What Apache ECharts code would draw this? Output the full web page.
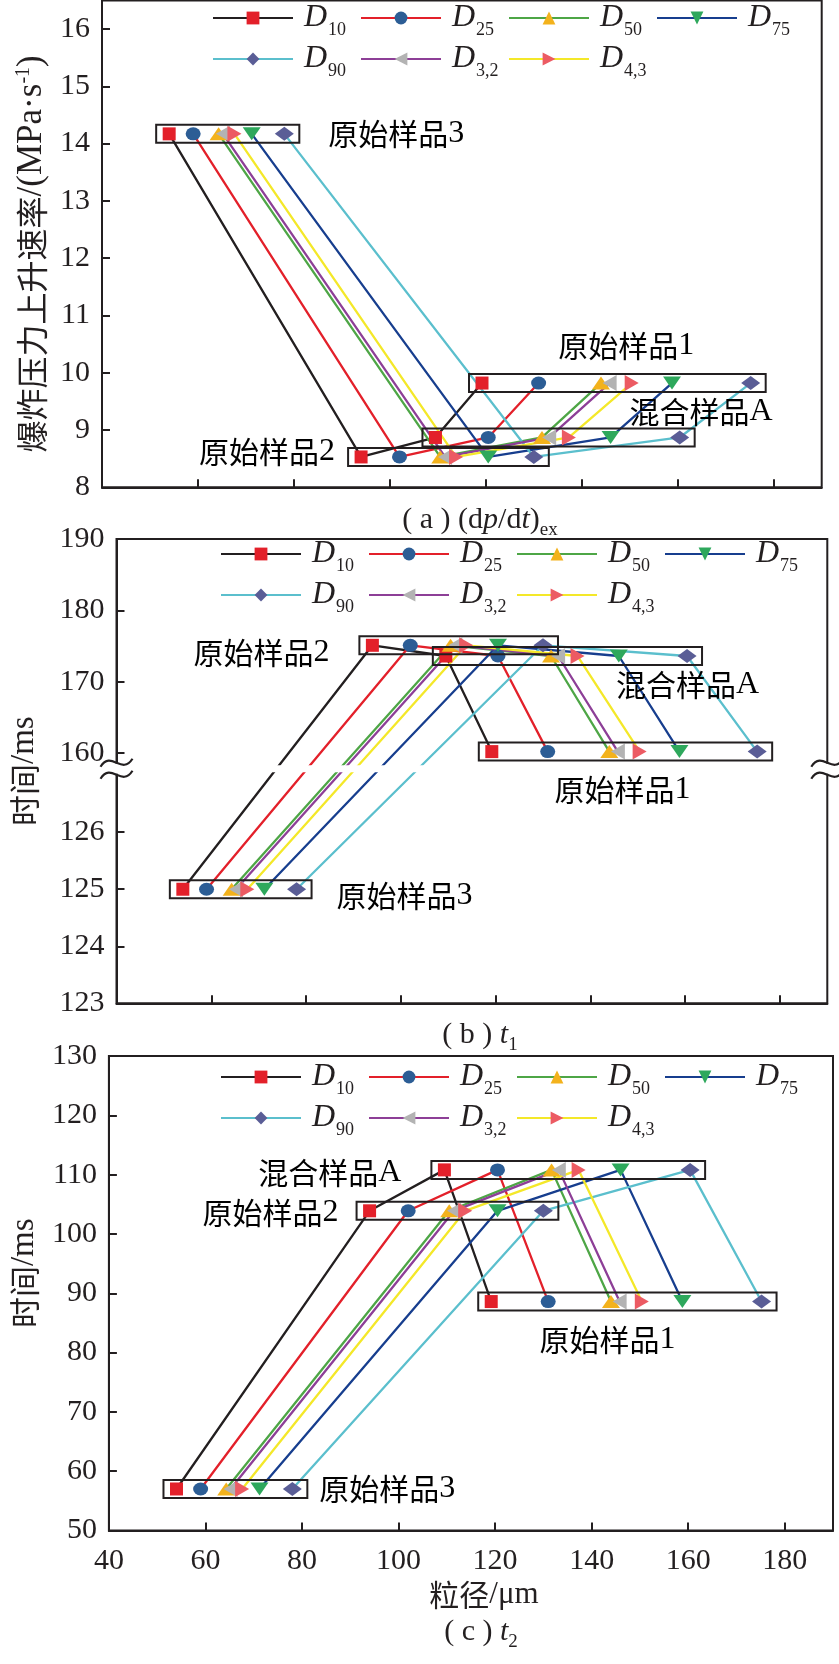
<!DOCTYPE html>
<html><head><meta charset="utf-8">
<script src="https://cdn.jsdelivr.net/npm/echarts@6/dist/echarts.min.js"></script>
<style>html,body{margin:0;padding:0;background:#fff}#c{width:839px;height:1664px}</style>
</head><body><div id="c"></div>
<script>
// ---------------- data ----------------
const SERIES_NAMES = ['D10','D25','D50','D75','D90','D3,2','D4,3'];
const SAMPLES = ['原始样品3','原始样品2','混合样品A','原始样品1'];
// particle size (µm) for each metric, samples in the order above
const X_D10 = [54, 94, 109.5, 119.2];
const X_D25 = [59, 102, 120.5, 131];
const X_D50 = [64.3, 110.5, 131.7, 144];
const X_D75 = [71.2, 120.5, 146, 158.8];
const X_D90 = [78, 130, 160.4, 175.2];
const X_D32 = [65.2, 111.5, 133.2, 145.8];
const X_D43 = [67.6, 113.8, 137.3, 150.4];
// panel values per sample
const Y_A = [14.17, 8.53, 8.87, 9.82];     // (dp/dt)ex, MPa/s
const Y_B = [125.0, 175.1, 173.6, 160.2];  // t1, ms
const Y_C = [57.0, 103.9, 110.8, 88.6];    // t2, ms
// tick labels
const X_TICKS = [40, 60, 80, 100, 120, 140, 160, 180];
const A_TICKS = [8, 9, 10, 11, 12, 13, 14, 15, 16];
const B_TICKS_LOW = [123, 124, 125, 126];
const B_TICKS_HIGH = [160, 170, 180, 190];
const C_TICKS = [50, 60, 70, 80, 90, 100, 110, 120, 130];

// ---------------- styles ----------------
const SERIF = 'Liberation Serif';
const CJK = 'Noto Sans CJK SC';
const INK = '#231f20';
const STYLE = [
  {line:'#231f20', fill:'#e3202a', symbol:'rect',     size:[13,13], rot:0},
  {line:'#e3202a', fill:'#2c5d95', symbol:'circle',   size:[15,13], rot:0},
  {line:'#4ea646', fill:'#f3b21c', symbol:'triangle', size:[18,13], rot:0},
  {line:'#173e8e', fill:'#2ea85c', symbol:'triangle', size:[18,13], rot:180},
  {line:'#5bbfcd', fill:'#5a5d96', symbol:'diamond',  size:[19,14], rot:0},
  {line:'#8d3f97', fill:'#b3b3b3', symbol:'triangle', size:[16,14], rot:90},
  {line:'#f4e829', fill:'#ec5b63', symbol:'triangle', size:[16,14], rot:-90}
];
const GRIDS = [
  {left:102, top:0.4, width:719.7, height:486.9},
  {left:105, top:539, width:722.3, height:464.3},
  {left:103, top:1056, width:730, height:474.5}
];
const LEG_POS = [{left:212, top:2}, {left:220, top:538}, {left:220, top:1061}];
const TITLE_POS = [{left:480, top:500}, {left:480, top:1015}, {left:481, top:1612}];
// annotation placement relative to each sample's marker row
const LABEL_POS = [
  [{ref:'max',dx:44,dy:0,align:'left'}, {ref:'min',dx:-26,dy:-5,align:'right'}, {ref:'max',dx:93,dy:-26,align:'right'}, {ref:'mid',dx:10,dy:-37,align:'center'}],
  [{ref:'max',dx:40,dy:6,align:'left'}, {ref:'min',dx:-43,dy:7,align:'right'}, {ref:'max',dx:72,dy:29,align:'right'}, {ref:'mid',dx:-2,dy:38,align:'center'}],
  [{ref:'max',dx:27,dy:0,align:'left'}, {ref:'min',dx:-31,dy:2,align:'right'}, {ref:'min',dx:-43,dy:3,align:'right'}, {ref:'mid',dx:-19,dy:38,align:'center'}]
];

// broken axis of panel (b): lower part 123-127 is drawn with a larger scale
const B_BREAK = {anchor:125, anchorV:140.91, unit:7.994, split:158, band:[157.3, 158.3]};
function bAxis(v){ return v >= B_BREAK.split ? v : B_BREAK.anchorV + (v - B_BREAK.anchor) * B_BREAK.unit; }
function bLabel(v){ return v >= B_BREAK.split ? Math.round(v) : Math.round(B_BREAK.anchor + (v - B_BREAK.anchorV) / B_BREAK.unit); }

const XS = [X_D10, X_D25, X_D50, X_D75, X_D90, X_D32, X_D43];
const PANEL_Y = [Y_A, Y_B.map(bAxis), Y_C];

const RICH_LABEL = {
  c:{fontFamily:CJK, fontSize:30, color:INK, lineHeight:38},
  n:{fontFamily:SERIF, fontSize:32, color:INK, lineHeight:38}
};
function sampleRich(s){ return '{c|' + s.slice(0, -1) + '}{n|' + s.slice(-1) + '}'; }

function boxRender(panel){
  return function(params, api){
    const i = api.value(3);
    const p0 = api.coord([api.value(0), api.value(2)]);
    const p1 = api.coord([api.value(1), api.value(2)]);
    const lp = LABEL_POS[panel][i];
    const rx = lp.ref === 'min' ? p0[0] : (lp.ref === 'max' ? p1[0] : (p0[0] + p1[0]) / 2);
    return {type:'group', children:[
      {type:'rect', shape:{x:p0[0]-13, y:p0[1]-9, width:p1[0]-p0[0]+28, height:18},
       style:{fill:'none', stroke:INK, lineWidth:2}},
      {type:'text', x:rx+lp.dx, y:p0[1]+lp.dy,
       style:{text:sampleRich(SAMPLES[i]), align:lp.align, verticalAlign:'middle', rich:RICH_LABEL}}
    ]};
  };
}

function breakRender(params, api){
  const cs = params.coordSys;
  const yT = api.coord([40, B_BREAK.band[1]])[1];
  const yB = api.coord([40, B_BREAK.band[0]])[1];
  const yc = (yT + yB) / 2;
  const waves = x => [-6, 6].map(o => ({type:'bezierCurve',
    shape:{x1:x-16, y1:yc+o+4, x2:x+16, y2:yc+o-4, cpx1:x-5, cpy1:yc+o-13, cpx2:x+5, cpy2:yc+o+13},
    style:{stroke:INK, lineWidth:2.2, fill:'none'}}));
  return {type:'group', children:[
    {type:'rect', shape:{x:cs.x+1.5, y:yT, width:cs.width-3, height:yB-yT}, style:{fill:'#fff'}},
    {type:'rect', shape:{x:cs.x-3, y:yc-5, width:6, height:10}, style:{fill:'#fff'}},
    {type:'rect', shape:{x:cs.x+cs.width-3, y:yc-5, width:6, height:10}, style:{fill:'#fff'}}
  ].concat(waves(cs.x), waves(cs.x + cs.width))};
}

// ---------------- options ----------------
const series = [];
PANEL_Y.forEach((ys, p) => {
  XS.forEach((xs, k) => {
    const st = STYLE[k];
    series.push({
      type:'line', name:SERIES_NAMES[k], xAxisIndex:p, yAxisIndex:p,
      data: xs.map((x, i) => [x, ys[i]]),
      symbol:st.symbol, symbolSize:st.size, symbolRotate:st.rot, showAllSymbol:true,
      lineStyle:{color:st.line, width:2.3}, itemStyle:{color:st.fill},
      emphasis:{disabled:true}, z:2
    });
  });
  series.push({
    type:'custom', name:'box' + p, xAxisIndex:p, yAxisIndex:p, z:3, silent:true, clip:false,
    data: SAMPLES.map((s, i) => [Math.min(...XS.map(a => a[i])), Math.max(...XS.map(a => a[i])), ys[i], i]),
    renderItem: boxRender(p)
  });
});
series.push({type:'custom', name:'break', xAxisIndex:1, yAxisIndex:1, z:10, silent:true, clip:false,
  data:[[B_BREAK.band[0]]], renderItem:breakRender});

const LEG_RICH = {
  g:{width:6},
  d:{fontFamily:SERIF, fontStyle:'italic', fontSize:32, lineHeight:42, width:24, color:INK},
  s:{fontFamily:SERIF, fontSize:18, lineHeight:26, width:28, verticalAlign:'bottom', color:INK}
};
const TITLE_RICH = {
  t:{fontFamily:SERIF, fontSize:30, lineHeight:40, fontWeight:'normal', color:INK},
  i:{fontFamily:SERIF, fontSize:30, lineHeight:40, fontWeight:'normal', fontStyle:'italic', color:INK},
  s:{fontFamily:SERIF, fontSize:19, lineHeight:28, fontWeight:'normal', verticalAlign:'bottom', color:INK}
};
const TITLE_TEXT = [
  '{t|( a ) (d}{i|p}{t|/d}{i|t}{t|)}{s|ex}',
  '{t|( b ) }{i|t}{s|1}',
  '{t|( c ) }{i|t}{s|2}'
];

const axisLineCommon = {show:true, lineStyle:{color:INK, width:2}};
const tickCommon = {show:true, inside:true, length:8, lineStyle:{color:INK, width:2}};
const labelFont = {fontFamily:SERIF, fontSize:30, color:INK};

const xAxis = GRIDS.map((g, p) => ({
  type:'value', gridIndex:p, min:40, max:190,
  axisLine:axisLineCommon,
  axisTick:Object.assign({customValues:X_TICKS}, tickCommon),
  axisLabel:Object.assign({show:p === 2, customValues:X_TICKS, margin:16}, labelFont),
  splitLine:{show:false},
  name: p === 2 ? '{c|粒径}{t|/μm}' : '',
  nameLocation:'middle', nameGap:46,
  nameTextStyle:{padding:[0,0,0,26], rich:{
    c:{fontFamily:CJK, fontSize:30, color:INK, lineHeight:36},
    t:{fontFamily:SERIF, fontSize:31, color:INK, lineHeight:36}}}
}));

const yNameRich = {
  c:{fontFamily:CJK, fontSize:32, color:INK, lineHeight:36},
  t:{fontFamily:SERIF, fontSize:35, color:INK, lineHeight:36},
  sup:{fontFamily:SERIF, fontSize:20, color:INK, lineHeight:24, verticalAlign:'top'}
};
const yNameRichT = {
  c:{fontFamily:CJK, fontSize:31, color:INK, lineHeight:36},
  t:{fontFamily:SERIF, fontSize:33, color:INK, lineHeight:36}
};
const B_CUSTOM = B_TICKS_LOW.map(bAxis).concat(B_TICKS_HIGH);
const yAxis = [
  {type:'value', gridIndex:0, min:8, max:16.5,
   axisLine:axisLineCommon, axisTick:Object.assign({customValues:A_TICKS}, tickCommon),
   axisLabel:Object.assign({customValues:A_TICKS, margin:12}, labelFont), splitLine:{show:false},
   name:'{c|爆炸压力上升速率}{t|/(MPa·s}{sup|-1}{t|)}', nameLocation:'middle', nameGap:52,
   nameTextStyle:{padding:[0,20,0,0], rich:yNameRich}},
  {type:'value', gridIndex:1, min:bAxis(123), max:190,
   axisLine:axisLineCommon, axisTick:Object.assign({customValues:B_CUSTOM}, tickCommon),
   axisLabel:Object.assign({customValues:B_CUSTOM, margin:12, formatter:v => String(bLabel(v))}, labelFont),
   splitLine:{show:false},
   name:'{c|时间}{t|/ms}', nameLocation:'middle', nameGap:74,
   nameTextStyle:{rich:yNameRichT}},
  {type:'value', gridIndex:2, min:50, max:130,
   axisLine:axisLineCommon, axisTick:Object.assign({customValues:C_TICKS}, tickCommon),
   axisLabel:Object.assign({customValues:C_TICKS, margin:12}, labelFont), splitLine:{show:false},
   name:'{c|时间}{t|/ms}', nameLocation:'middle', nameGap:61,
   nameTextStyle:{padding:[0,0,0,40], rich:yNameRichT}}
];

const option = {
  animation:false,
  backgroundColor:'#fff',
  textStyle:{fontFamily:SERIF},
  grid: GRIDS.map(g => Object.assign({show:true, borderColor:INK, borderWidth:2, containLabel:false}, g)),
  xAxis, yAxis,
  legend: LEG_POS.map(lp => ({
    data:SERIES_NAMES, left:lp.left, top:lp.top, width:610, padding:0,
    itemWidth:80, itemHeight:16, itemGap:4, selectedMode:false, orient:'horizontal',
    formatter: n => '{g| }{d|D}{s|' + n.slice(1) + '}',
    textStyle:{rich:LEG_RICH}
  })),
  title: TITLE_TEXT.map((t, p) => ({
    text:t, left:TITLE_POS[p].left, top:TITLE_POS[p].top, textAlign:'center', padding:0,
    textStyle:{fontWeight:'normal', rich:TITLE_RICH}
  })),
  series
};

const chart = echarts.init(document.getElementById('c'), null, {renderer:'canvas', width:839, height:1664});
chart.setOption(option);
</script>
</body></html>
